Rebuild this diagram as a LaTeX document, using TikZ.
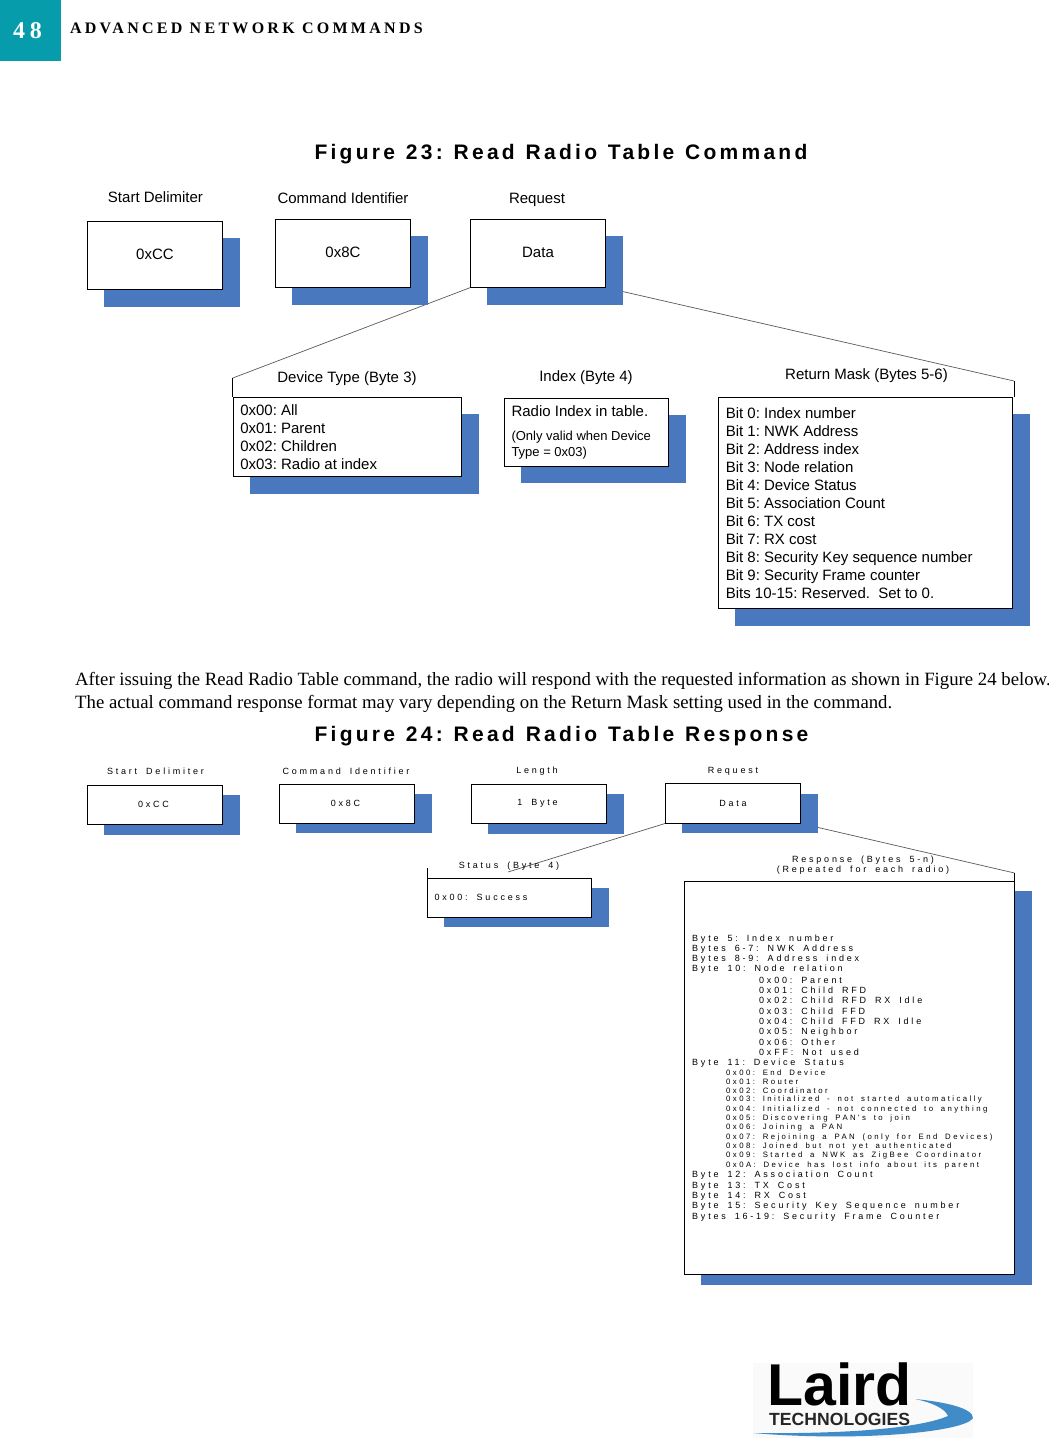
\documentclass[tikz,border=0pt]{standalone}
\usepackage{xcolor}
\usepackage{fontspec}
\setmainfont{Liberation Serif}
\setsansfont{Liberation Sans}
\newfontfamily\headfont[LetterSpace=20.5]{Liberation Serif}
\newfontfamily\titlefont[LetterSpace=15.5,WordSpace=1.2]{Liberation Sans}
\newfontfamily\widefont[LetterSpace=31,WordSpace=1.7]{Liberation Sans}
\usetikzlibrary{backgrounds}
\definecolor{shadowblue}{HTML}{4A78BF}
\definecolor{pageteal}{HTML}{069CAB}
\frenchspacing
\tikzset{
  framebox/.style={draw=black,fill=white,line width=1pt,anchor=north west,inner sep=0pt,font=\sffamily\fontsize{15}{18}\selectfont},
  textbox/.style={framebox,align=flush left,inner xsep=7pt},
  biglabel/.style={font=\sffamily\fontsize{15}{18}\selectfont,align=center},
  widelabel/.style={font=\widefont\fontsize{9}{10}\selectfont,align=center},
  figtitle/.style={font=\titlefont\bfseries\fontsize{21}{24}\selectfont},
  linkline/.style={draw=black!65,line width=0.7pt},
}
\begin{document}
\begin{tikzpicture}[x=1pt,y=-1pt]
\useasboundingbox (0,0) rectangle (1049,1438);

\fill[pageteal] (0,0) rectangle (61,61);
\node[text=white,font=\headfont\bfseries\fontsize{24}{28}\selectfont] (pagenum) at (27.5,31) {48};
\node[anchor=west,font=\headfont\bfseries\fontsize{16}{18}\selectfont] (pagehead) at (66.5,28) {ADVANCED NETWORK COMMANDS};

\node[figtitle] (title23) at (561,154) {Figure 23: Read Radio Table Command};
\node[biglabel] (labStart) at (155.5,197) {Start Delimiter};
\node[biglabel] (labCmd) at (343,198) {Command Identifier};
\node[biglabel] (labReq) at (537,199.5) {Request};
\node[framebox,minimum width=135,minimum height=68] (start) at (87,220.7) {\raisebox{1pt}{0xCC}};
\node[framebox,minimum width=135,minimum height=68] (cmd) at (275,218.7) {\raisebox{1pt}{0x8C}};
\node[framebox,minimum width=135,minimum height=68] (req) at (470,218.7) {\raisebox{1pt}{Data}};

\node[biglabel] (labDev) at (347,379) {Device Type (Byte 3)};
\node[biglabel] (labIdx) at (586,378) {Index (Byte 4)};
\node[biglabel] (labMask) at (866.5,376) {Return Mask (Bytes 5-6)};
\node[textbox,text width=214,minimum height=79] (dev) at (232.8,396.7) {0x00: All\\0x01: Parent\\0x02: Children\\0x03: Radio at index};
\node[textbox,text width=150,minimum height=68] (idx) at (504,397.7) {\rule{0pt}{12pt}Radio Index in table.\\[8pt]{\fontsize{13}{16}\selectfont (Only valid when Device\\[-2pt]Type = 0x03)}};
\node[textbox,inner xsep=7.5pt,text width=279,minimum height=211] (mask) at (717.8,396.7) {Bit 0: Index number\\Bit 1: NWK Address\\Bit 2: Address index\\Bit 3: Node relation\\Bit 4: Device Status\\Bit 5: Association Count\\Bit 6: TX cost\\Bit 7: RX cost\\Bit 8: Security Key sequence number\\Bit 9: Security Frame counter\\Bits 10-15: Reserved.\ \ Set to 0.};

\node[anchor=north west,inner sep=0pt,align=flush left,font=\fontsize{18.75}{23}\selectfont] (para) at (75,672.5) {After issuing the Read Radio Table command, the radio will respond with the requested information as shown in Figure 24 below.\\The actual command response format may vary depending on the Return Mask setting used in the command.};

\node[figtitle] (title24) at (561.5,736) {Figure 24: Read Radio Table Response};
\node[widelabel] (labStartB) at (155.5,771) {Start Delimiter};
\node[widelabel] (labCmdB) at (346,771) {Command Identifier};
\node[widelabel] (labLen) at (537,771) {Length};
\node[widelabel] (labReqB) at (733,771) {Request};
\node[framebox,widelabel,anchor=north west,minimum width=135,minimum height=39] (startB) at (87,784.7) {\hspace*{-3pt}0xCC};
\node[framebox,widelabel,anchor=north west,minimum width=135,minimum height=39] (cmdB) at (279,783.7) {\hspace*{-3pt}0x8C};
\node[framebox,widelabel,anchor=north west,minimum width=135,minimum height=39] (len) at (471,783.7) {\hspace*{-3pt}1 Byte};
\node[framebox,widelabel,anchor=north west,minimum width=135,minimum height=39.5] (dataB) at (665,783) {Data};

\node[widelabel] (labStatus) at (509,866) {Status (Byte 4)};
\node[widelabel] (labResp) at (863,865) {Response (Bytes 5-n)\\(Repeated for each radio)};
\node[textbox,widelabel,anchor=north west,align=flush left,text width=150,minimum height=39] (status) at (427,877.7) {0x00: Success};
\node[framebox,minimum width=329.5,minimum height=393] (resp) at (684,880.7) {};

\foreach \x/\y/\t [count=\i] in {
  692/939.5/{Byte 5: Index number},
  692/949/{Bytes 6-7: NWK Address},
  692/959.5/{Bytes 8-9: Address index},
  692/969.5/{Byte 10: Node relation},
  759/980/{0x00: Parent},
  759/990.5/{0x01: Child RFD},
  759/1000.5/{0x02: Child RFD RX Idle},
  759/1011.5/{0x03: Child FFD},
  759/1021.5/{0x04: Child FFD RX Idle},
  759/1032/{0x05: Neighbor},
  759/1042.5/{0x06: Other},
  759/1052.5/{0xFF: Not used},
  692/1063/{Byte 11: Device Status}}
  \node[anchor=west,inner sep=0pt,font=\widefont\fontsize{9}{10}\selectfont] (lineA\i) at (\x,\y) {\t};

\foreach \y/\t [count=\i] in {
  1072.5/{0x00: End Device},
  1081.5/{0x01: Router},
  1090.5/{0x02: Coordinator},
  1099.5/{0x03: Initialized - not started automatically},
  1109/{0x04: Initialized - not connected to anything},
  1118/{0x05: Discovering PAN's to join},
  1127/{0x06: Joining a PAN},
  1137/{0x07: Rejoining a PAN (only for End Devices)},
  1146/{0x08: Joined but not yet authenticated},
  1155/{0x09: Started a NWK as ZigBee Coordinator},
  1165/{0x0A: Device has lost info about its parent}}
  \node[anchor=west,inner sep=0pt,font=\widefont\fontsize{7.8}{9}\selectfont] (lineB\i) at (726,\y) {\t};

\foreach \y/\t [count=\i] in {
  1175/{Byte 12: Association Count},
  1186/{Byte 13: TX Cost},
  1196/{Byte 14: RX Cost},
  1206/{Byte 15: Security Key Sequence number},
  1217/{Bytes 16-19: Security Frame Counter}}
  \node[anchor=west,inner sep=0pt,font=\widefont\fontsize{9}{10}\selectfont] (lineC\i) at (692,\y) {\t};

\fill[black!2] (753,1363) rectangle (973,1438);
\fill[shadowblue!85!cyan] (753,1433) .. controls (830,1434) and (915,1430) .. (948,1416) .. controls (945,1408) and (930,1402) .. (915,1399) .. controls (945,1402) and (973,1408) .. (973,1418) .. controls (965,1432) and (860,1442) .. (753,1433) -- cycle;
\node[anchor=base west,inner sep=0pt,text depth=0pt,font=\sffamily\bfseries\fontsize{59}{60}\selectfont] (logoMain) at (767,1405) {Laird};
\node[anchor=base west,inner sep=0pt,font=\sffamily\bfseries\fontsize{17.6}{18}\selectfont,text=black!85] (logoSub) at (769,1425) {TECHNOLOGIES};

\coordinate (devTop) at (232.8,378);
\coordinate (maskTop) at (1014,381);
\coordinate (maskEnd) at (1014,397);
\coordinate (statusEnd) at (508,872);
\coordinate (statusTop) at (427,868);
\coordinate (respTop) at (1014.5,873);
\begin{scope}[on background layer]
\draw[linkline] (req.south west) -- (devTop);
\draw[black,line width=0.7pt] (devTop) -- (dev.north west);
\draw[linkline] (req.south east) -- (maskTop);
\draw[black,line width=0.7pt] (maskTop) -- (maskEnd);
\draw[linkline] (dataB.south west) -- (statusEnd);
\draw[black,line width=0.7pt] (statusTop) -- (status.north west);
\draw[linkline] (dataB.south east) -- (respTop);
\draw[black,line width=0.7pt] (respTop) -- (resp.north east);
\foreach \a/\b/\c/\d in {104/238/240/307,292/236/428/305,487/236/623/305,250/414/479/494,521/415/686/483,735/414/1030/626,104/795/240/835,296/794/432/833,488/794/624/834,682/794/818/833,444/888/609/927,701/891/1032/1285}
  \fill[shadowblue] (\a,\b) rectangle (\c,\d);
\end{scope}
\end{tikzpicture}
\end{document}
